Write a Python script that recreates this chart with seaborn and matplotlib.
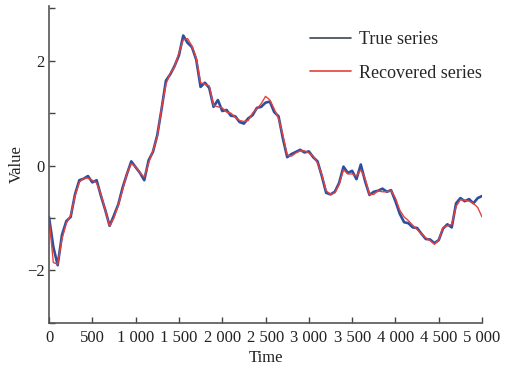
import numpy as np
import pandas as pd
import matplotlib
matplotlib.use("Agg")
import matplotlib.pyplot as plt
from matplotlib.lines import Line2D
import seaborn as sns

# Time grid (every 50 steps) and the two series
time = list(range(0, 5001, 50))

true_series = [
    -0.98, -1.55, -1.90, -1.32, -1.06, -0.98, -0.55, -0.28, -0.25, -0.20,
    -0.32, -0.28, -0.58, -0.85, -1.15, -0.95, -0.74, -0.42, -0.16, 0.08,
    -0.03, -0.14, -0.28, 0.10, 0.26, 0.58, 1.08, 1.62, 1.74, 1.90,
    2.10, 2.48, 2.34, 2.26, 2.02, 1.50, 1.58, 1.48, 1.12, 1.25,
    1.04, 1.06, 0.95, 0.94, 0.83, 0.80, 0.90, 0.96, 1.10, 1.12,
    1.20, 1.22, 1.02, 0.94, 0.52, 0.16, 0.22, 0.26, 0.30, 0.25,
    0.27, 0.16, 0.08, -0.20, -0.52, -0.55, -0.50, -0.33, -0.02, -0.14,
    -0.10, -0.26, 0.02, -0.30, -0.56, -0.50, -0.48, -0.44, -0.50, -0.47,
    -0.68, -0.92, -1.08, -1.10, -1.18, -1.19, -1.30, -1.40, -1.41, -1.48,
    -1.42, -1.20, -1.12, -1.18, -0.72, -0.62, -0.68, -0.64, -0.72, -0.62,
    -0.58,
]

recovered_series = [
    -1.00, -1.85, -1.88, -1.40, -1.10, -0.95, -0.58, -0.32, -0.24, -0.24,
    -0.28, -0.33, -0.55, -0.85, -1.15, -1.00, -0.75, -0.46, -0.15, 0.04,
    -0.02, -0.14, -0.22, 0.05, 0.28, 0.55, 1.10, 1.55, 1.76, 1.88,
    2.15, 2.40, 2.42, 2.28, 2.05, 1.58, 1.55, 1.52, 1.15, 1.12,
    1.10, 1.02, 1.00, 0.92, 0.86, 0.84, 0.86, 1.00, 1.08, 1.18,
    1.32, 1.25, 1.08, 0.90, 0.58, 0.20, 0.18, 0.24, 0.28, 0.28,
    0.24, 0.18, 0.05, -0.18, -0.48, -0.55, -0.52, -0.36, -0.08, -0.16,
    -0.16, -0.20, -0.08, -0.25, -0.55, -0.55, -0.48, -0.50, -0.50, -0.48,
    -0.62, -0.85, -0.98, -1.05, -1.14, -1.22, -1.30, -1.38, -1.43, -1.50,
    -1.42, -1.18, -1.15, -1.12, -0.78, -0.65, -0.66, -0.68, -0.72, -0.80,
    -0.98,
]

series_names = ["True series", "Recovered series"]
series_colors = ["#2f4f9e", "#e8403a"]
legend_colors = ["#3c4654", "#e8403a"]

x_ticks = list(range(0, 5001, 500))
x_tick_labels = ["0", "500", "1 000", "1 500", "2 000", "2 500",
                 "3 000", "3 500", "4 000", "4 500", "5 000"]
y_ticks = [-3, -2, -1, 0, 1, 2, 3]
y_tick_labels = ["", "\u22122", "", "0", "", "2", ""]

df = pd.concat([
    pd.DataFrame({"Time": time, "Value": true_series, "Series": series_names[0]}),
    pd.DataFrame({"Time": time, "Value": recovered_series, "Series": series_names[1]}),
], ignore_index=True)

sns.set_theme(style="ticks")
plt.rcParams["font.family"] = "serif"
plt.rcParams["font.serif"] = ["Liberation Serif", "DejaVu Serif"]

fig = plt.figure(figsize=(5.18, 3.75), dpi=100)
ax = fig.add_axes([0.0946, 0.139, 0.836, 0.846])

sns.lineplot(data=df, x="Time", y="Value", hue="Series",
             hue_order=series_names, palette=series_colors,
             linewidth=1.0, ax=ax, legend=False)
# thicker stroke for the true series
ax.lines[0].set_linewidth(1.9)

ax.set_xlim(0, 5000)
ax.set_ylim(-3, 3.05)
ax.set_xticks(x_ticks)
ax.set_xticklabels(x_tick_labels)
ax.set_yticks(y_ticks)
ax.set_yticklabels(y_tick_labels)

ax.tick_params(axis="both", direction="in", length=4, width=1.0,
               color="#444444", labelsize=12, labelcolor="#222222")
ax.tick_params(axis="y", pad=3)
ax.tick_params(axis="x", pad=5)
for side in ["top", "right"]:
    ax.spines[side].set_visible(False)
for side in ["left", "bottom"]:
    ax.spines[side].set_color("#555555")
    ax.spines[side].set_linewidth(1.2)

ax.set_xlabel("Time", fontsize=12, color="#222222", labelpad=3)
ax.set_ylabel("Value", fontsize=12, color="#222222", labelpad=2)

handles = [Line2D([0], [0], color=c, linewidth=1.2) for c in legend_colors]
ax.legend(handles, series_names, loc="upper left", bbox_to_anchor=(0.565, 0.97),
          frameon=False, fontsize=13, handlelength=2.3, handletextpad=0.4,
          labelspacing=0.9)

fig.savefig("out.png", dpi=100, facecolor="white")
